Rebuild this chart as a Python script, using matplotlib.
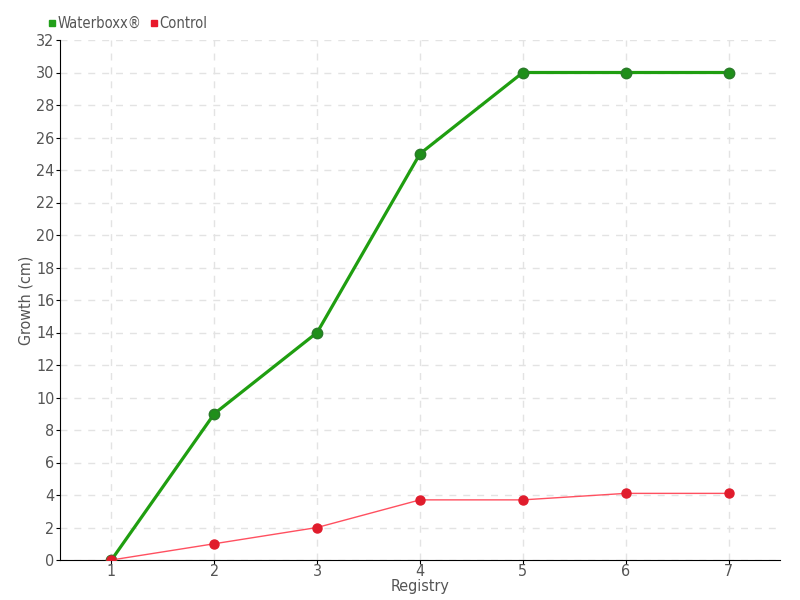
import matplotlib.pyplot as plt
import numpy as np
from matplotlib.lines import Line2D

# Growth per registry
registry = [1, 2, 3, 4, 5, 6, 7]
waterboxx = [0, 9, 14, 25, 30, 30, 30]
control = [0, 1, 2, 3.7, 3.7, 4.1, 4.1]
y_ticks = list(range(0, 33, 2))

plt.rcParams['font.family'] = ['DejaVu Sans']
plt.rcParams['font.stretch'] = 'condensed'
text_col = "#555555"

fig = plt.figure(figsize=(8, 6), dpi=100)
ax = fig.add_axes([60/800, 40/600, 720/800, 520/600])

ax.plot(registry, waterboxx, color="#1f9e10", lw=2.3, marker="o", markersize=7.5,
        markerfacecolor="#1f8f1a", markeredgecolor="#2a7a2a", zorder=3)
ax.plot(registry, control, color="#ff5060", lw=1, marker="o", markersize=6.5,
        markerfacecolor="#e01c2c", markeredgecolor="#e01c2c", zorder=4)

ax.set_xlim(0.5, 7.5)
ax.set_ylim(0, 32)
ax.set_xticks(registry)
ax.set_yticks(y_ticks)
ax.grid(True, linestyle=(0, (5, 5)), color="#e3e3e3", lw=1)
ax.set_axisbelow(True)
for s in ["top", "right"]:
    ax.spines[s].set_visible(False)
for s in ["left", "bottom"]:
    ax.spines[s].set_color("black")
ax.tick_params(axis="y", colors="black", labelsize=11.5, length=3, pad=1)
ax.tick_params(axis="x", colors="black", labelsize=11.5, length=3, pad=0)
for t in ax.get_xticklabels() + ax.get_yticklabels():
    t.set_color(text_col)

ax.set_xlabel("Registry", color=text_col, fontsize=11.5, labelpad=0)
ax.set_ylabel("Growth (cm)", color=text_col, fontsize=11.5, labelpad=2)

handles = [Line2D([], [], color="#22a01a", marker="s", lw=0, markersize=4.5),
           Line2D([], [], color="#e8192c", marker="s", lw=0, markersize=4.5)]
fig.legend(handles, ["Waterboxx®", "Control"], loc="upper left",
           bbox_to_anchor=(36/800, 1 - 6/600), ncol=2, frameon=False,
           handletextpad=0.0, columnspacing=0.4, handlelength=0.8,
           fontsize=10.5, labelcolor=text_col, borderpad=0.2)

fig.savefig("out.png", dpi=100)
